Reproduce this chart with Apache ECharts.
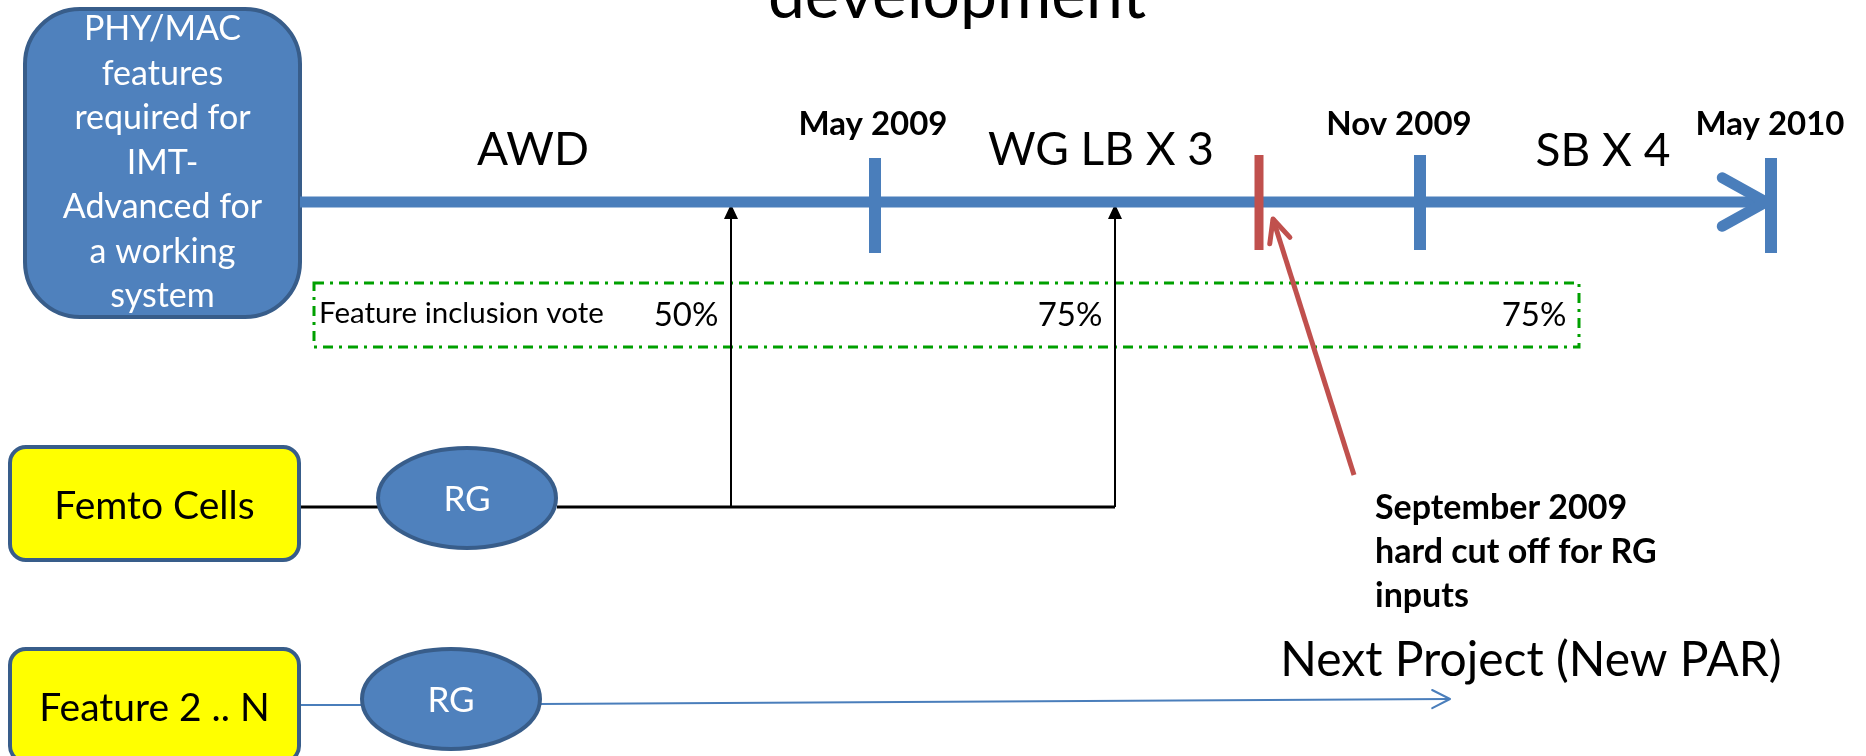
<!DOCTYPE html>
<html><head><meta charset="utf-8">
<script src="https://cdn.jsdelivr.net/npm/echarts@6/dist/echarts.min.js"></script>
<style>html,body{margin:0;padding:0;background:#fff}#c{width:1866px;height:756px}</style>
</head><body><div id="c"></div>
<script>
// ---------- data (diagram units on hidden value axes: x 0..1866, y 0..756 downward) ----------
const titleText = ['development'];
const titlePos = [[957, -3]];

const mainBoxRect = [[25, 9, 300, 317]];
const mainBoxLines = ['PHY/MAC', 'features', 'required for', 'IMT-', 'Advanced for', 'a working', 'system'];

const featureNames = ['Femto Cells', 'Feature 2 .. N'];
const featureRects = [[10, 447, 299, 560], [10, 649, 299, 762]];

const rgLabels = ['RG', 'RG'];
const rgEllipses = [[467, 498, 89, 50], [451, 699, 89, 50]];

const timeline = [[300, 202, 1766, 202]];
const milestoneNames = ['May 2009', 'Nov 2009', 'May 2010'];
const milestoneTicks = [[875, 158, 253], [1420, 155, 250], [1771, 158, 253]];
const milestoneLabelPos = [[873, 124], [1399, 124], [1770, 124]];
const cutoffTick = [[1259, 155, 250]];

const phaseNames = ['AWD', 'WG LB X 3', 'SB X 4'];
const phaseLabelPos = [[533, 150], [1101, 150], [1603, 151]];

const voteBox = [[314, 283, 1579, 347]];
const voteCaption = ['Feature inclusion vote'];
const voteCaptionPos = [[319, 313]];
const voteShares = ['50%', '75%', '75%'];
const voteSharePos = [[686, 315], [1070, 315], [1534, 315]];

const femtoSegments = [[300, 507, 378, 507], [557, 507, 1115, 507]];
const femtoUpArrows = [[731, 507, 731, 204], [1115, 507, 1115, 204]];

const featureSegments = [[300, 705, 362, 705]];
const featureArrow = [[540, 704, 1450, 699]];
const nextProject = ['Next Project (New PAR)'];
const nextProjectPos = [[1531, 661]];

const cutoffArrow = [[1354, 475, 1273, 219]];
const cutoffNote = ['September 2009', 'hard cut off for RG', 'inputs'];
const cutoffNotePos = [[1375, 508]];

// ---------- styles ----------
const FONT = 'Lato, "Liberation Sans", sans-serif';
const BLUE = '#4F81BD', BLUE_LINE = '#4A7EBB', BORDER = '#385D8A', RED = '#C0504D', GREEN = '#00A000';

function chevron(tip, from, len, angDeg) {
  const dx = from[0] - tip[0], dy = from[1] - tip[1];
  const L = Math.hypot(dx, dy), ux = dx / L, uy = dy / L;
  const a = angDeg * Math.PI / 180;
  const rot = (t) => [tip[0] + len * (ux * Math.cos(t) - uy * Math.sin(t)),
                      tip[1] + len * (ux * Math.sin(t) + uy * Math.cos(t))];
  return [rot(a), tip, rot(-a)];
}
function triangle(tip, from, len, half) {
  const dx = from[0] - tip[0], dy = from[1] - tip[1];
  const L = Math.hypot(dx, dy), ux = dx / L, uy = dy / L;
  const bx = tip[0] + ux * len, by = tip[1] + uy * len;
  return [tip, [bx - uy * half, by + ux * half], [bx + uy * half, by - ux * half]];
}

function custom(data, z, render) {
  return { type: 'custom', coordinateSystem: 'cartesian2d', data: data, z: z, silent: true,
           clip: false, animation: false, renderItem: render };
}
function textSeries(pos, labels, style, z) {
  return custom(pos, z || 20, (params, api) => {
    const p = api.coord([api.value(0), api.value(1)]);
    return { type: 'text', x: p[0], y: p[1],
      style: Object.assign({ text: labels[params.dataIndex], fontFamily: FONT, fill: '#000',
                             align: 'center', verticalAlign: 'middle' }, style) };
  });
}
function segSeries(data, stroke, width, z, head) {
  return custom(data, z, (params, api) => {
    const a = api.coord([api.value(0), api.value(1)]);
    const b = api.coord([api.value(2), api.value(3)]);
    const children = [{ type: 'polyline', shape: { points: [a, b] },
      style: { stroke: stroke, lineWidth: width, fill: null, lineCap: head && head.cap || 'butt' } }];
    if (head && head.kind === 'chevron') {
      children.push({ type: 'polyline', shape: { points: chevron(b, a, head.len, head.ang) },
        style: { stroke: stroke, lineWidth: head.width || width, fill: null, lineCap: 'round', lineJoin: 'round' } });
    } else if (head && head.kind === 'triangle') {
      children.push({ type: 'polygon', shape: { points: triangle(b, a, head.len, head.half) },
        style: { fill: stroke, stroke: null } });
    }
    return { type: 'group', children: children };
  });
}
function tickSeries(data, stroke, width, z) {
  return custom(data, z, (params, api) => {
    const a = api.coord([api.value(0), api.value(1)]);
    const b = api.coord([api.value(0), api.value(2)]);
    return { type: 'line', shape: { x1: a[0], y1: a[1], x2: b[0], y2: b[1] },
             style: { stroke: stroke, lineWidth: width } };
  });
}
function rectSeries(data, fill, stroke, lw, r, z, dash) {
  return custom(data, z, (params, api) => {
    const a = api.coord([api.value(0), api.value(1)]);
    const b = api.coord([api.value(2), api.value(3)]);
    return { type: 'rect', shape: { x: a[0], y: a[1], width: b[0] - a[0], height: b[1] - a[1], r: r },
             style: { fill: fill, stroke: stroke, lineWidth: lw, lineDash: dash || null } };
  });
}

const series = [
  rectSeries(voteBox, null, GREEN, 3, 0, 2, [10, 6, 3, 6]),
  rectSeries(mainBoxRect, BLUE, BORDER, 4, 55, 5),
  custom(mainBoxRect, 21, (params, api) => {
    const a = api.coord([api.value(0), api.value(1)]);
    const b = api.coord([api.value(2), api.value(3)]);
    const cx = (a[0] + b[0]) / 2, cy = (a[1] + b[1]) / 2, lh = 44.5, n = mainBoxLines.length;
    return { type: 'group', children: mainBoxLines.map((t, i) => ({ type: 'text', x: cx, y: cy + (i - (n - 1) / 2) * lh,
      style: { text: t, fontFamily: FONT, fontSize: 34, fill: '#fff', align: 'center', verticalAlign: 'middle' } })) };
  }),
  rectSeries(featureRects, '#FFFF00', BORDER, 4, 16, 5),
  custom(featureRects, 21, (params, api) => {
    const a = api.coord([api.value(0), api.value(1)]);
    const b = api.coord([api.value(2), api.value(3)]);
    const cy = params.dataIndex === 0 ? (a[1] + b[1]) / 2 + 3 : a[1] + 59;
    return { type: 'text', x: (a[0] + b[0]) / 2, y: cy,
      style: { text: featureNames[params.dataIndex], fontFamily: FONT, fontSize: 39, fill: '#000', align: 'center', verticalAlign: 'middle' } };
  }),
  segSeries(femtoSegments, '#000', 3, 3),
  segSeries(femtoUpArrows, '#000', 2, 3, { kind: 'triangle', len: 15, half: 7 }),
  segSeries(featureSegments, BLUE_LINE, 2, 3),
  segSeries(featureArrow, BLUE_LINE, 2, 3, { kind: 'chevron', len: 20, ang: 27 }),
  custom(rgEllipses, 6, (params, api) => {
    const c = api.coord([api.value(0), api.value(1)]);
    const e = api.coord([api.value(0) + api.value(2), api.value(1) + api.value(3)]);
    return { type: 'group', children: [
      { type: 'ellipse', shape: { cx: c[0], cy: c[1], rx: e[0] - c[0], ry: e[1] - c[1] },
        style: { fill: BLUE, stroke: BORDER, lineWidth: 4 } },
      { type: 'text', x: c[0], y: c[1] + 2, style: { text: rgLabels[params.dataIndex], fontFamily: FONT, fontSize: 35,
        fill: '#fff', align: 'center', verticalAlign: 'middle' } } ] };
  }),
  segSeries(timeline, BLUE_LINE, 11, 8, { kind: 'chevron', len: 50, ang: 29, cap: 'butt' }),
  tickSeries(milestoneTicks, BLUE_LINE, 12, 9),
  tickSeries(cutoffTick, RED, 9, 10),
  segSeries(cutoffArrow, RED, 5, 10, { kind: 'chevron', len: 25, ang: 25 }),
  textSeries(titlePos, titleText, { fontSize: 66 }),
  textSeries(milestoneLabelPos, milestoneNames, { fontSize: 33, fontWeight: 'bold' }),
  textSeries(phaseLabelPos, phaseNames, { fontSize: 46 }),
  textSeries(voteCaptionPos, voteCaption, { fontSize: 29.5, align: 'left' }),
  textSeries(voteSharePos, voteShares, { fontSize: 33 }),
  textSeries(nextProjectPos, nextProject, { fontSize: 48 }),
  custom(cutoffNotePos, 20, (params, api) => {
    const p = api.coord([api.value(0), api.value(1)]);
    return { type: 'group', children: cutoffNote.map((t, i) => ({ type: 'text', x: p[0], y: p[1] + i * 44,
      style: { text: t, fontFamily: FONT, fontSize: 34, fontWeight: 'bold', fill: '#000', align: 'left', verticalAlign: 'middle' } })) };
  })
];

const chart = echarts.init(document.getElementById('c'), null, { renderer: 'canvas' });
chart.setOption({
  backgroundColor: '#fff',
  animation: false,
  grid: { left: 0, right: 0, top: 0, bottom: 0 },
  xAxis: { type: 'value', min: 0, max: 1866, show: false },
  yAxis: { type: 'value', min: 0, max: 756, inverse: true, show: false },
  series: series
});
</script></body></html>
